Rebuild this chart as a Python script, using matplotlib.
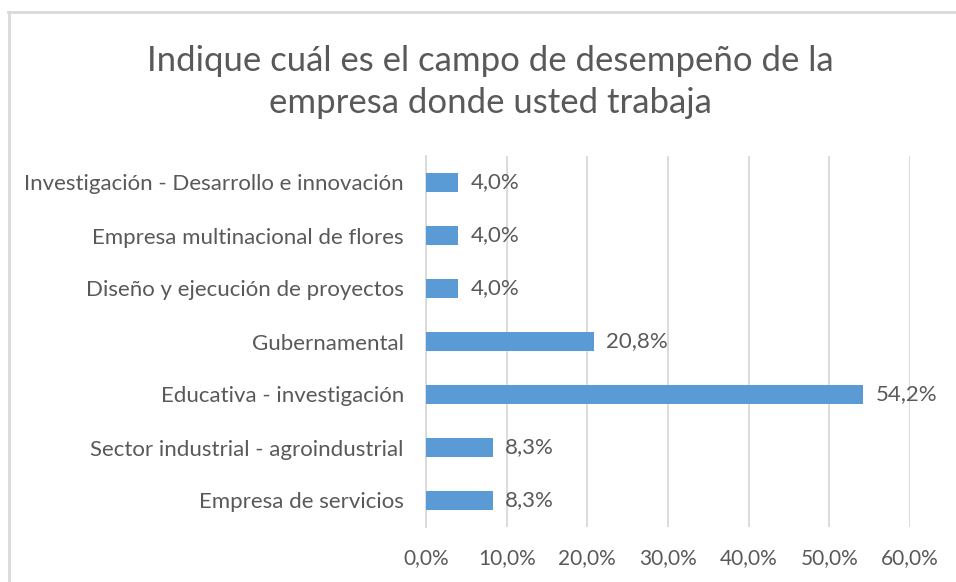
import matplotlib.pyplot as plt
from matplotlib.lines import Line2D
from matplotlib.ticker import FuncFormatter

# data, top to bottom as shown
categories = [
    "Investigación - Desarrollo e innovación",
    "Empresa multinacional de flores",
    "Diseño y ejecución de proyectos",
    "Gubernamental",
    "Educativa - investigación",
    "Sector industrial - agroindustrial",
    "Empresa de servicios",
]
values = [4.0, 4.0, 4.0, 20.8, 54.2, 8.3, 8.3]
x_ticks = [0, 10, 20, 30, 40, 50, 60]
title = "Indique cuál es el campo de desempeño de la\nempresa donde usted trabaja"

plt.rcParams['font.family'] = ['Lato', 'DejaVu Sans']
text_col = "#595959"
grid_col = "#D9D9D9"
bar_col = "#5B9BD5"

fig = plt.figure(figsize=(9.56, 5.82), dpi=100)
ax = fig.add_axes([426 / 956, 55 / 582, 484 / 956, 371 / 582])

ypos = list(range(len(categories)))[::-1]
bars = ax.barh(ypos, values, height=0.34, color=bar_col, zorder=3)

for b, v in zip(bars, values):
    ax.text(b.get_width() + 1.5, b.get_y() + b.get_height() / 2,
            f"{v:.1f}%".replace(".", ","), va="center", ha="left",
            fontsize=16, color=text_col)

ax.set_xlim(0, 60)
ax.set_ylim(-0.5, len(categories) - 0.5)
ax.set_xticks(x_ticks)
ax.xaxis.set_major_formatter(FuncFormatter(lambda x, p: f"{x:.1f}%".replace(".", ",")))
ax.set_yticks(ypos)
ax.set_yticklabels(categories)
ax.tick_params(axis="x", length=0, pad=15, labelsize=15, labelcolor=text_col)
ax.tick_params(axis="y", length=0, pad=16, labelsize=16, labelcolor=text_col)
ax.grid(axis="x", color=grid_col, linewidth=1.3, zorder=0)
for s in ["top", "right", "bottom"]:
    ax.spines[s].set_visible(False)
ax.spines["left"].set_color(grid_col)
ax.spines["left"].set_linewidth(1.3)

fig.text(490 / 956, 1 - 82 / 582, title, ha="center", va="center",
         fontsize=25, color=text_col, linespacing=1.4)

# chart frame (only top and left edges visible in the crop)
fig.add_artist(Line2D([8 / 956, 1], [1 - 12 / 582, 1 - 12 / 582], color=grid_col, lw=2, transform=fig.transFigure))
fig.add_artist(Line2D([9 / 956, 9 / 956], [0, 1 - 12 / 582], color=grid_col, lw=2, transform=fig.transFigure))

fig.savefig("out.png", dpi=100)
